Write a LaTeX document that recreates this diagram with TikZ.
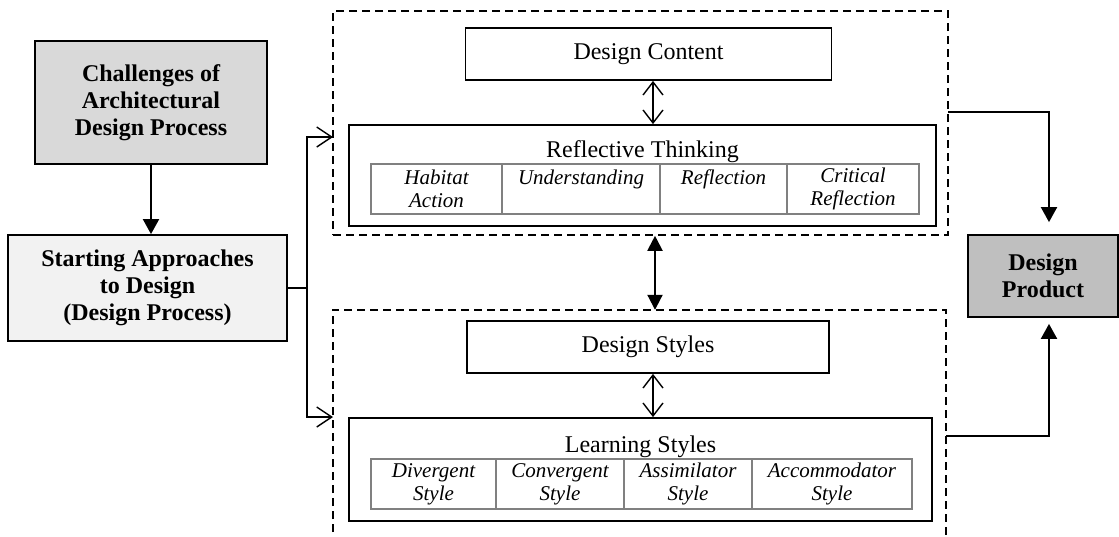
\documentclass[tikz,border=0pt]{standalone}
\usepackage{fontspec}
\setmainfont{Liberation Serif}
\usetikzlibrary{arrows.meta,calc}
\definecolor{chalfill}{HTML}{D9D9D9}
\definecolor{startfill}{HTML}{F2F2F2}
\definecolor{prodfill}{HTML}{BFBFBF}
\definecolor{cellline}{HTML}{808080}
\begin{document}
\begin{tikzpicture}[x=1pt,y=-1pt,
  box/.style={draw=black, line width=1.8pt, rectangle, inner sep=0pt, align=center},
  bbox/.style={box, font=\fontsize{24}{27}\selectfont\bfseries},
  nbox/.style={box, font=\fontsize{24}{27}\selectfont},
  title/.style={anchor=base, inner sep=0pt, font=\fontsize{24}{27}\selectfont},
  cell/.style={draw=cellline, line width=1.5pt, rectangle, inner sep=0pt, align=center,
    minimum height=50, font=\fontsize{21}{23}\selectfont\itshape},
  grpline/.style={draw=black, line width=1.6pt, dash pattern=on 8pt off 5pt},
  solidarrow/.style={line width=2pt, -{Triangle[length=15pt,width=16pt]}},
  thinline/.style={line width=1.4pt},
  openarrow/.style={line width=1.4pt, -{Straight Barb[length=15pt,width=20pt,line width=1.4pt]}},
  opendouble/.style={line width=1.4pt, {Straight Barb[length=13pt,width=20pt,line width=1.4pt]}-{Straight Barb[length=13pt,width=20pt,line width=1.4pt]}},
  soliddouble/.style={line width=2pt, {Triangle[length=15pt,width=15pt]}-{Triangle[length=15pt,width=15pt]}}
]
\useasboundingbox (0,0) rectangle (1119,536);

% left column
\node[bbox, fill=chalfill, minimum width=232, minimum height=123] (chal) at (151,102.5)
  {Challenges of\\Architectural\\Design Process};
\node[bbox, fill=startfill, minimum width=279, minimum height=106] (start) at (147.5,288)
  {Starting Approaches\\to Design\\(Design Process)};

% groups
\node[grpline, rectangle, inner sep=0pt, minimum width=615, minimum height=224] (grp1) at (640.5,123) {};
\node[rectangle, inner sep=0pt, minimum width=613, minimum height=235] (grp2) at (639.5,427.5) {};
\draw[grpline] (grp2.south west) -- (grp2.north west) -- (grp2.north east) -- (grp2.south east);

% top group content
\node[nbox, minimum width=366, minimum height=52] (dc) at (648.5,54) {Design Content};
\node[box, minimum width=587, minimum height=101] (rt) at (642.5,175.5) {};
\node[title] (rtt) at (642.5,157) {Reflective Thinking};
\node[cell, minimum width=131] (c11) at (436.5,189) {Habitat\\Action};
\node[cell, minimum width=158] (c12) at (581,189) {Understanding\\\mbox{}};
\node[cell, minimum width=127] (c13) at (723.5,189) {Reflection\\\mbox{}};
\node[cell, minimum width=132] (c14) at (853,189) {Critical\\Reflection};

% bottom group content
\node[nbox, minimum width=362, minimum height=52] (ds) at (648,347) {Design Styles};
\node[box, minimum width=583, minimum height=103] (ls) at (640.5,469.5) {};
\node[title] (lst) at (640.5,452) {Learning Styles};
\node[cell, minimum width=125] (c21) at (433.5,484) {Divergent\\Style};
\node[cell, minimum width=128] (c22) at (560,484) {Convergent\\Style};
\node[cell, minimum width=128] (c23) at (688,484) {Assimilator\\Style};
\node[cell, minimum width=160] (c24) at (832,484) {Accommodator\\Style};

% product
\node[bbox, fill=prodfill, minimum width=150, minimum height=82] (prod) at (1043,276) {Design\\Product};

% helper coordinates
\coordinate (fork) at (307,288);
\coordinate (in1) at (333,137);
\coordinate (in2) at (333,417);
\coordinate (vx) at (653,0);
\coordinate (tx) at (655,0);
\coordinate (o1) at (948,112);
\coordinate (o2) at (946,436);
\coordinate (px) at (1049,0);

% connectors
\draw[solidarrow] (chal.south) -- (chal.south |- start.north);
\draw[thinline] (start.east) -- (fork);
\draw[openarrow] (fork) |- (in1);
\draw[openarrow] (fork) |- (in2);
\draw[opendouble] (dc.south -| vx) -- (rt.north -| vx);
\draw[opendouble] (ds.south -| vx) -- (ls.north -| vx);
\draw[soliddouble] (grp1.south -| tx) -- (grp2.north -| tx);
\draw[solidarrow, shorten >=12pt] (o1) -| (prod.north -| px);
\draw[solidarrow, shorten >=6pt] (o2) -| (prod.south -| px);
\end{tikzpicture}
\end{document}
